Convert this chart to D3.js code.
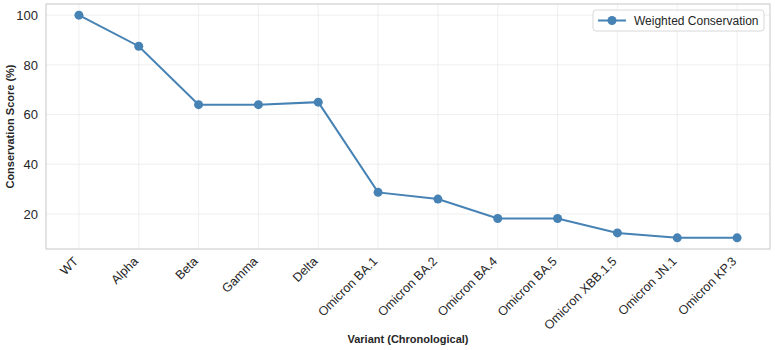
<!DOCTYPE html>
<html>
<head>
<meta charset="utf-8">
<script src="https://cdn.jsdelivr.net/npm/d3@7"></script>
<style>
  body { margin: 0; background: #fff; }
  text { font-family: "Liberation Sans", Arial, sans-serif; fill: #262626; }
</style>
</head>
<body>
<div id="chart"></div>
<script>
//chart data
let variants = ["WT", "Alpha", "Beta", "Gamma", "Delta", "Omicron BA.1", "Omicron BA.2",
                "Omicron BA.4", "Omicron BA.5", "Omicron XBB.1.5", "Omicron JN.1", "Omicron KP.3"];
let scores = [100, 87.5, 64, 64, 65, 28.7, 26, 18.2, 18.2, 12.4, 10.4, 10.4];
let y_ticks = [20, 40, 60, 80, 100];
let series_name = "Weighted Conservation";

//set svg size
let width_svg = 775;
let height_svg = 350;

let margin = { top: 4, right: 5, left: 46, bottom: 101 };
let width = width_svg - margin.left - margin.right;
let height = height_svg - margin.top - margin.bottom;

let line_color = "#4682b4";

let svg = d3.select("#chart")
            .append("svg")
            .attr("width", width_svg)
            .attr("height", height_svg);

let chart = svg.append("g")
               .attr("transform", `translate(${margin.left}, ${margin.top})`);

//==========================================================
//scales (matplotlib style 5% padding)
let x_scale = d3.scaleLinear()
                .domain([-0.55, variants.length - 1 + 0.55])
                .range([0, width]);

let y_min = d3.min(scores), y_max = d3.max(scores);
let pad = (y_max - y_min) * 0.05;
let y_scale = d3.scaleLinear()
                .domain([y_min - pad, y_max + pad])
                .range([height, 0]);

//==========================================================
//grid lines
chart.append("g")
     .selectAll("line")
     .data(variants)
     .enter()
     .append("line")
     .attr("x1", (d, i) => x_scale(i))
     .attr("x2", (d, i) => x_scale(i))
     .attr("y1", 0)
     .attr("y2", height)
     .attr("stroke", "#ebebeb")
     .attr("stroke-width", 0.8);

chart.append("g")
     .selectAll("line")
     .data(y_ticks)
     .enter()
     .append("line")
     .attr("x1", 0)
     .attr("x2", width)
     .attr("y1", d => y_scale(d))
     .attr("y2", d => y_scale(d))
     .attr("stroke", "#ebebeb")
     .attr("stroke-width", 0.8);

//frame
chart.append("rect")
     .attr("width", width)
     .attr("height", height)
     .attr("fill", "none")
     .attr("stroke", "#d0d0d0")
     .attr("stroke-width", 1.2);

//==========================================================
//axes
let y_axis = chart.append("g")
                  .call(d3.axisLeft(y_scale).tickValues(y_ticks).tickSize(0).tickPadding(8));
y_axis.select(".domain").remove();
y_axis.selectAll("text")
      .style("font-size", "13px")
      .attr("fill", "#262626");

let x_axis = chart.append("g")
                  .attr("transform", `translate(0, ${height})`);
x_axis.selectAll("text")
      .data(variants)
      .enter()
      .append("text")
      .attr("transform", (d, i) => `translate(${x_scale(i) - 3}, 10) rotate(-45)`)
      .attr("text-anchor", "end")
      .attr("dy", "0.35em")
      .style("font-size", "12.5px")
      .text(d => d);

//axis labels
svg.append("text")
   .attr("x", margin.left + width / 2)
   .attr("y", 343)
   .attr("text-anchor", "middle")
   .style("font-size", "11px")
   .style("font-weight", "bold")
   .text("Variant (Chronological)");

svg.append("text")
   .attr("transform", `translate(14, ${margin.top + height / 2}) rotate(-90)`)
   .attr("text-anchor", "middle")
   .style("font-size", "11px")
   .style("font-weight", "bold")
   .text("Conservation Score (%)");

//==========================================================
//line + markers
let line = d3.line()
             .x((d, i) => x_scale(i))
             .y(d => y_scale(d));

chart.append("path")
     .datum(scores)
     .attr("d", line)
     .attr("fill", "none")
     .attr("stroke", line_color)
     .attr("stroke-width", 2);

chart.selectAll("circle.pt")
     .data(scores)
     .enter()
     .append("circle")
     .attr("class", "pt")
     .attr("cx", (d, i) => x_scale(i))
     .attr("cy", d => y_scale(d))
     .attr("r", 4.5)
     .attr("fill", line_color);

//==========================================================
//legend
let legend = svg.append("g").attr("transform", "translate(593, 10)");
legend.append("rect")
      .attr("width", 171)
      .attr("height", 21)
      .attr("rx", 3)
      .attr("fill", "#fff")
      .attr("fill-opacity", 0.8)
      .attr("stroke", "#d8d8d8");
legend.append("line")
      .attr("x1", 5).attr("x2", 33)
      .attr("y1", 10.5).attr("y2", 10.5)
      .attr("stroke", line_color)
      .attr("stroke-width", 2);
legend.append("circle")
      .attr("cx", 19).attr("cy", 10.5)
      .attr("r", 4.5)
      .attr("fill", line_color);
legend.append("text")
      .attr("x", 41)
      .attr("y", 10.5)
      .attr("dy", "0.35em")
      .style("font-size", "12px")
      .text(series_name);
</script>
</body>
</html>
